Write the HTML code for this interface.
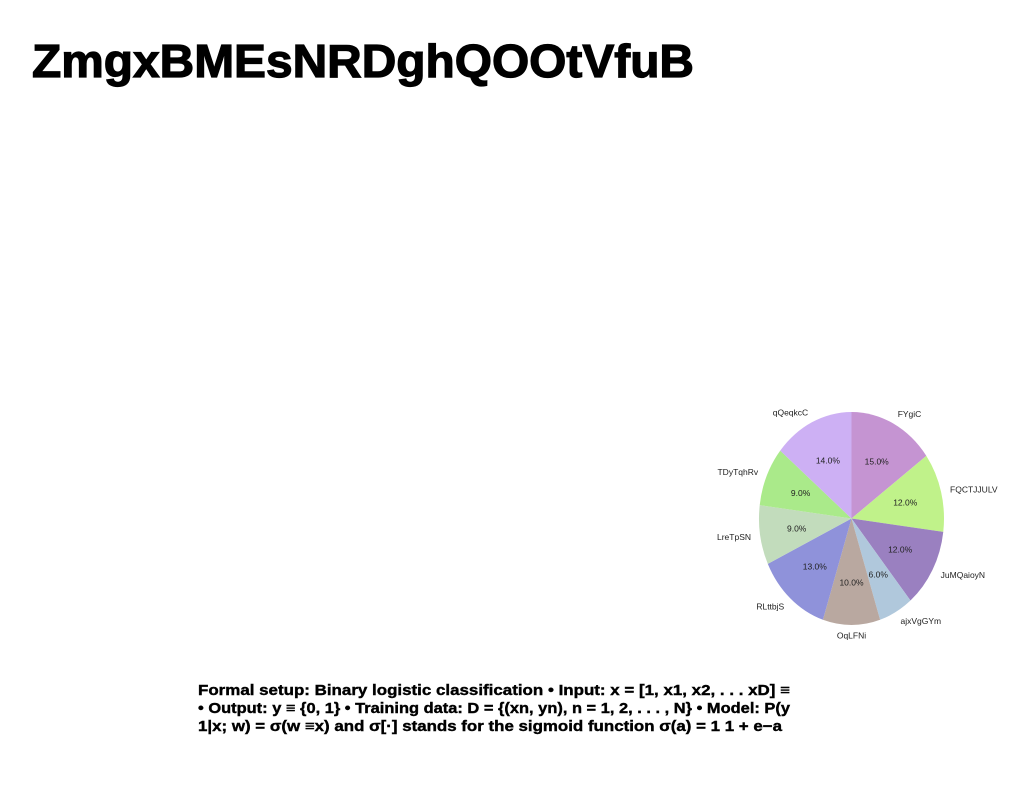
<!DOCTYPE html>
<html><head><meta charset="utf-8"><style>
body{margin:0;background:#fff;}
svg{display:block;font-family:"Liberation Sans",sans-serif;}
</style></head><body>
<svg width="1024" height="788">
<text x="32" y="77" font-size="46" font-weight="bold" textLength="662" lengthAdjust="spacingAndGlyphs" stroke="#000" stroke-width="1.2">ZmgxBMEsNRDghQOOtVfuB</text>
<g id="pie"></g>
<g font-size="15" font-weight="bold" stroke="#000" stroke-width="0.4">
<text x="198" y="695" textLength="592" lengthAdjust="spacingAndGlyphs">Formal setup: Binary logistic classification • Input: x = [1, x1, x2, . . . xD] ≡</text>
<text x="198" y="713" textLength="592" lengthAdjust="spacingAndGlyphs">• Output: y ≡ {0, 1} • Training data: D = {(xn, yn), n = 1, 2, . . . , N} • Model: P(y</text>
<text x="198" y="731" textLength="584" lengthAdjust="spacingAndGlyphs">1|x; w) = σ(w ≡x) and σ[·] stands for the sigmoid function σ(a) = 1 1 + e−a</text>
</g>
</svg>
<script>
const labels=["FYgiC","FQCTJJULV","JuMQaioyN","ajxVgGYm","OqLFNi","RLttbjS","LreTpSN","TDyTqhRv","qQeqkcC"];
const values=[15,12,12,6,10,13,9,9,14];
const colors=["#c594d2","#c0f28a","#9a80c0","#b0c8dc","#b9a8a0","#8f92da","#c2dcbc","#aaea8a","#cdb0f4"];
const cx=851.5,cy=518.5,rx=92.5,ry=106.5;
const g=document.getElementById('pie');
const NS="http://www.w3.org/2000/svg";
const total=values.reduce((a,b)=>a+b,0);
let ang=90;
function pt(a,k){const t=a*Math.PI/180;return [cx+k*rx*Math.cos(t),cy-k*ry*Math.sin(t)];}
values.forEach((v,i)=>{
  const sweep=v/total*360;
  const a0=ang,a1=ang-sweep;
  const p0=pt(a0,1),p1=pt(a1,1);
  const path=document.createElementNS(NS,'path');
  path.setAttribute('d',`M${cx},${cy} L${p0[0]},${p0[1]} A${rx},${ry} 0 ${sweep>180?1:0} 1 ${p1[0]},${p1[1]} Z`);
  path.setAttribute('fill',colors[i]);
  
  
  g.appendChild(path);
  const mid=(a0+a1)/2;
  const lp=pt(mid,1.1);
  const c=Math.cos(mid*Math.PI/180);
  const t=document.createElementNS(NS,'text');
  t.setAttribute('x',lp[0]);t.setAttribute('y',lp[1]+3);
  t.setAttribute('font-size','8.5');t.setAttribute('fill','#222');
  t.setAttribute('text-anchor',c>0.01?'start':(c<-0.01?'end':'middle'));
  t.textContent=labels[i];
  
  
  g.appendChild(t);
  const pp=pt(mid,0.6);
  const t2=document.createElementNS(NS,'text');
  t2.setAttribute('x',pp[0]);t2.setAttribute('y',pp[1]+3);
  t2.setAttribute('font-size','8.5');t2.setAttribute('fill','#222');
  t2.setAttribute('text-anchor','middle');
  t2.textContent=(v/total*100).toFixed(1)+'%';
  
  
  g.appendChild(t2);
  ang=a1;
});
</script>
</body></html>
